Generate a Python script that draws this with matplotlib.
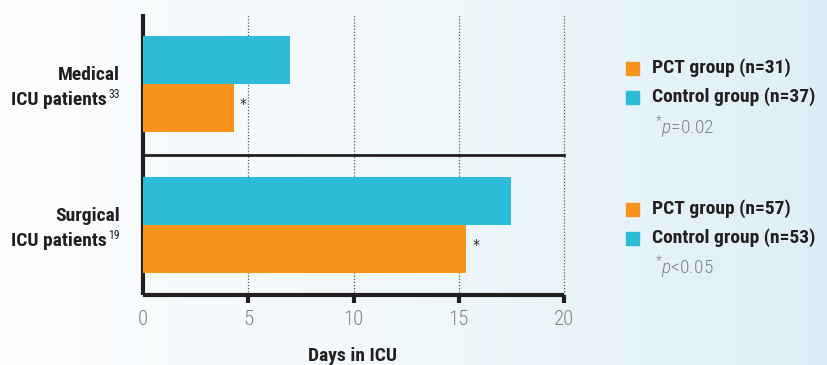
"""
ICU length of stay: PCT-guided vs control groups, horizontal bar chart.
"""

import numpy as np
import matplotlib
matplotlib.use('Agg')
import matplotlib.pyplot as plt
from matplotlib.colors import LinearSegmentedColormap

# ── Data ─────────────────────────────────────────────────────
cat_line1 = ["Medical", "Surgical"]
cat_line2 = ["ICU patients", "ICU patients"]
refs = ["33", "19"]
control_days = [7.0, 17.5]
pct_days = [4.3, 15.35]
pct_labels = ["PCT group (n=31)", "PCT group (n=57)"]
control_labels = ["Control group (n=37)", "Control group (n=53)"]
p_texts = [r"$^{*}\mathit{p}$=0.02", r"$^{*}\mathit{p}$<0.05"]
x_ticks = [0, 5, 10, 15, 20]
x_label = "Days in ICU"

# ── Style ────────────────────────────────────────────────────
ORANGE = "#F7941E"
CYAN = "#2CBCD8"
DARK = "#231F20"
GREY = "#808285"
COND = ['Roboto Condensed', 'DejaVu Sans']

plt.rcParams['mathtext.fontset'] = 'custom'
plt.rcParams['mathtext.rm'] = 'Roboto Condensed:light'
plt.rcParams['mathtext.it'] = 'Roboto Condensed:italic:light'

W, H = 828, 365
fig = plt.figure(figsize=(W / 100, H / 100), dpi=100)

# background gradient, near white on the left to pale blue on the right
bg = fig.add_axes([0, 0, 1, 1], zorder=-10)
cmap = LinearSegmentedColormap.from_list("bg", ["#FCFDFE", "#F1F8FB", "#DDEFF6"])
bg.imshow(np.linspace(0, 1, 256)[None, :], aspect='auto', cmap=cmap,
          extent=[0, 1, 0, 1])
bg.axis('off')

ax = fig.add_axes([143 / W, 70 / H, 421 / W, 281 / H])
ax.patch.set_alpha(0)

ypos = [1, 0]
h = 0.343
ax.barh(ypos, control_days, height=h, align='edge', color=CYAN, zorder=3)
ax.barh(ypos, pct_days, height=-h, align='edge', color=ORANGE, zorder=3)

for y, v in zip(ypos, pct_days):
    ax.text(v + 0.3, y - h / 2 + 0.03, "*", fontsize=10, color=DARK,
            ha='left', va='center')

ax.set_xlim(0, 20)
ax.set_ylim(-0.5, 1.5)

for x in x_ticks[1:]:
    ax.axvline(x, color="#555555", lw=0.9, ls=(0, (1, 1.5)), zorder=1,
               clip_on=False)
ax.plot([0, 20], [0.5, 0.5], color=DARK, lw=2, zorder=4, clip_on=False)

for s in ['top', 'right']:
    ax.spines[s].set_visible(False)
for s in ['left', 'bottom']:
    ax.spines[s].set_linewidth(3)
    ax.spines[s].set_color(DARK)
    ax.spines[s].set_capstyle('butt')

ax.set_xticks(x_ticks)
ax.set_xticklabels([str(t) for t in x_ticks], family=COND, fontsize=15,
                   color=GREY, fontweight='light')
ax.tick_params(axis='x', length=6, width=3, color=DARK, pad=5)
ax.xaxis.get_major_ticks()[0].tick1line.set_visible(False)
ax.set_yticks([])

fig.text(353 / W, 4 / H, x_label, family=COND, fontsize=14, fontweight='bold',
         color=DARK, ha='center', va='baseline')

# category labels, with superscript reference numbers
for y, l1, l2, ref in zip(ypos, cat_line1, cat_line2, refs):
    ax.text(-1.09, y + 0.03, l1, ha='right', va='baseline', family=COND,
            fontsize=14, fontweight='bold', color=DARK)
    ax.text(-1.74, y - 0.15, l2, ha='right', va='baseline', family=COND,
            fontsize=14, fontweight='bold', color=DARK)
    ax.text(-1.09, y - 0.10, ref, ha='right', va='baseline', family=COND,
            fontsize=8.5, color=DARK)

# legends on the right
leg_rows = [(68, 97, 127), (209, 238, 267)]
for (r1, r2, r3), pl, cl, pt in zip(leg_rows, pct_labels, control_labels, p_texts):
    for r, col, lab in [(r1, ORANGE, pl), (r2, CYAN, cl)]:
        fig.patches.append(plt.Rectangle((626 / W, 1 - (r + 6.5) / H), 13 / W, 13 / H,
                                         transform=fig.transFigure, color=col))
        fig.text(652 / W, 1 - r / H, lab, family=COND, fontsize=14,
                 fontweight='bold', color=DARK, va='center')
    fig.text(655 / W, 1 - r3 / H, pt, family=COND, fontsize=14,
             fontweight='light', color=GREY, va='center')

plt.savefig("out.png", dpi=100)
plt.close()
